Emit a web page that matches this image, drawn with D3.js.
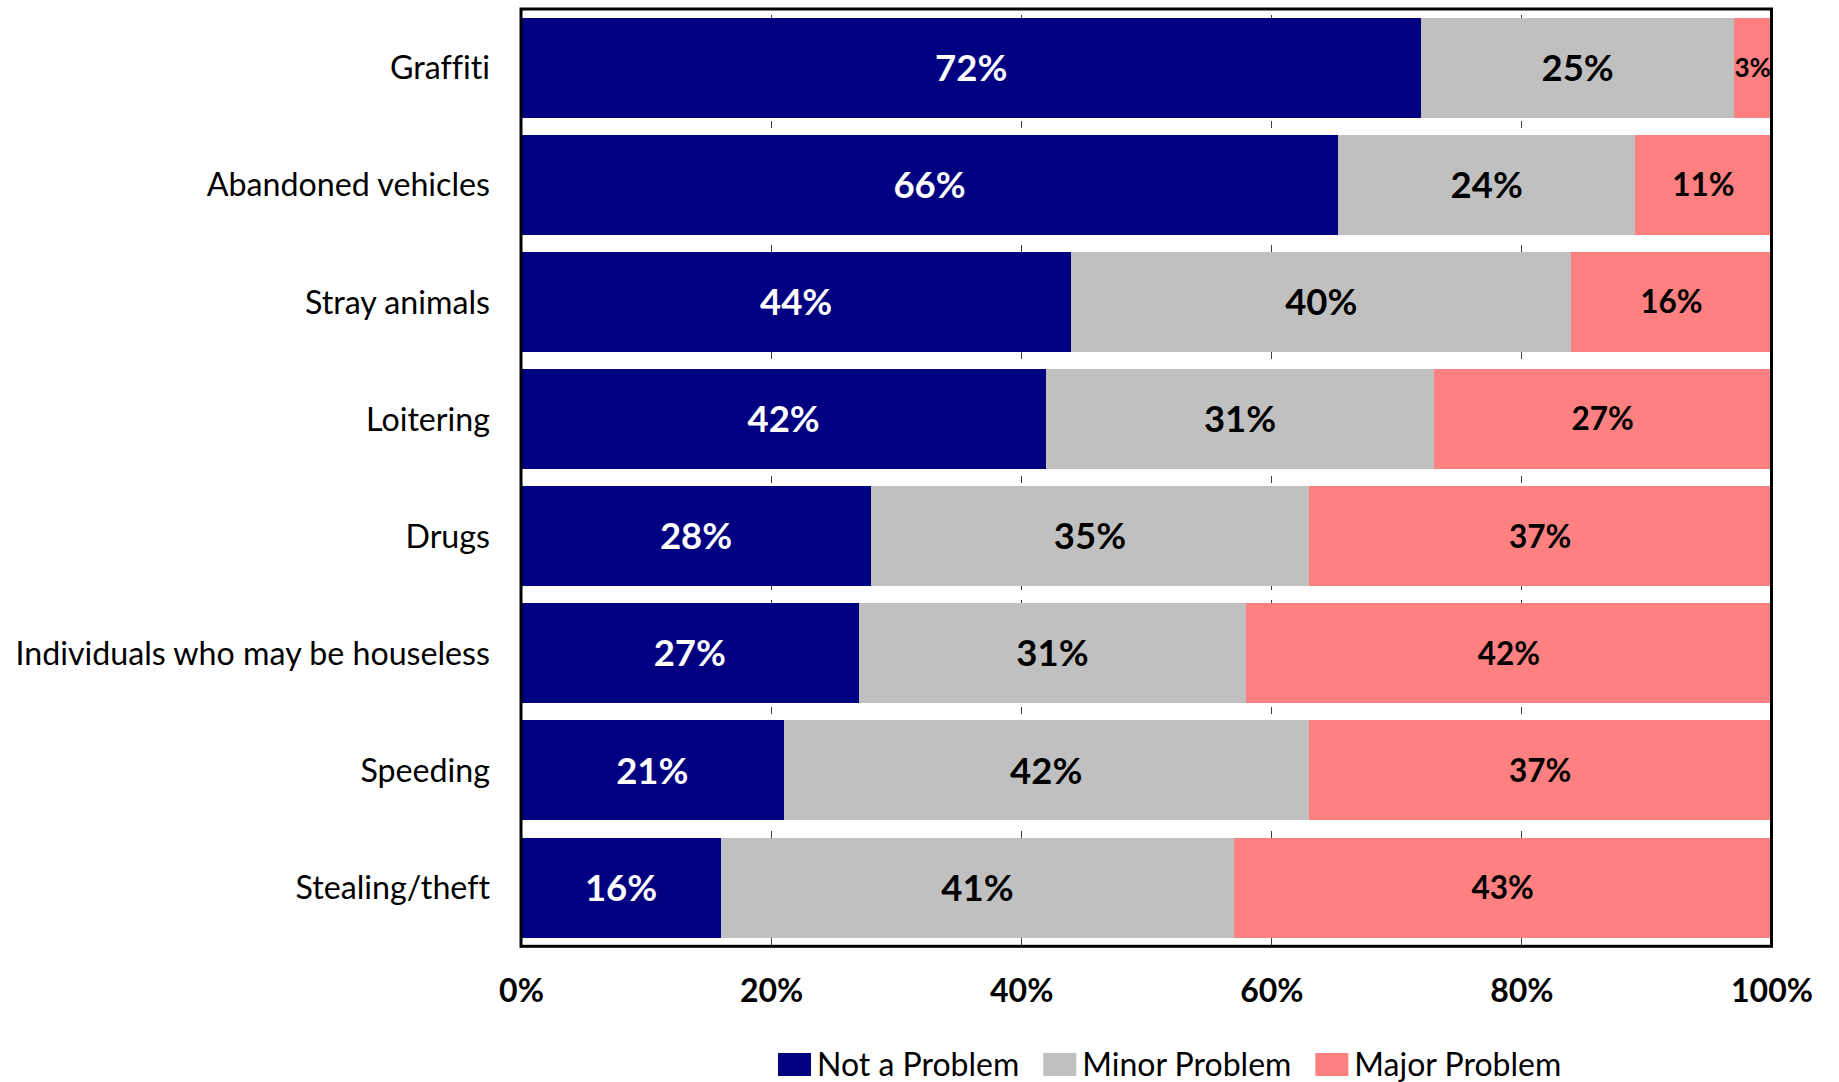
<!DOCTYPE html>
<html>
<head>
<meta charset="utf-8">
<script src="https://cdn.jsdelivr.net/npm/d3@7"></script>
<style>
  html, body { margin: 0; padding: 0; background: #ffffff; }
  svg { display: block; }
  text { font-variant-ligatures: none; }
</style>
</head>
<body>
<svg id="chart" width="1839" height="1082"></svg>
<script>
// Survey responses: how much of a problem each issue is in the neighbourhood (percent of respondents)
const categories = [
  "Graffiti",
  "Abandoned vehicles",
  "Stray animals",
  "Loitering",
  "Drugs",
  "Individuals who may be houseless",
  "Speeding",
  "Stealing/theft"
];
const seriesNames = ["Not a Problem", "Minor Problem", "Major Problem"];
const notAProblem  = [72, 66, 44, 42, 28, 27, 21, 16];
const minorProblem = [25, 24, 40, 31, 35, 31, 42, 41];
const majorProblem = [3, 11, 16, 27, 37, 42, 37, 43];
const tickValues = [0, 20, 40, 60, 80, 100];
const tickLabels = ["0%", "20%", "40%", "60%", "80%", "100%"];

const seriesColors = ["#000080", "#C0C0C0", "#FF8080"];
const labelColors  = ["#FFFFFF", "#000000", "#000000"];
const labelSizes   = [36.5, 36.5, 31.5];
const FONT = "Lato, 'Open Sans', 'Noto Sans', sans-serif";

const seriesValues = [notAProblem, minorProblem, majorProblem];
const rows = categories.map((c, i) => {
  const r = { category: c };
  seriesNames.forEach((s, k) => { r[s] = seriesValues[k][i]; });
  return r;
});

const svg = d3.select("#chart");

// Plot frame
const plot = { left: 521, right: 1771.5, top: 9, bottom: 946.3 };

const x = d3.scaleLinear().domain([0, 1]).range([plot.left, plot.right]);
const y = d3.scaleBand()
  .domain(categories)
  .range([plot.top, plot.bottom])
  .paddingInner(0.146)
  .paddingOuter(0.075);

// 100% stacked layout
const stacked = d3.stack().keys(seriesNames).offset(d3.stackOffsetExpand)(rows);

// Dashed vertical gridlines (visible between bars)
svg.append("g")
  .selectAll("line")
  .data(tickValues.slice(1, -1))
  .join("line")
  .attr("x1", d => x(d / 100))
  .attr("x2", d => x(d / 100))
  .attr("y1", plot.top)
  .attr("y2", plot.bottom)
  .attr("stroke", "#404040")
  .attr("stroke-width", 1)
  .attr("stroke-dasharray", "7,10.75")
  .attr("stroke-dashoffset", 12.25)
  .attr("shape-rendering", "crispEdges");

// Bars
const layers = svg.append("g")
  .selectAll("g")
  .data(stacked)
  .join("g")
  .attr("fill", (d, i) => seriesColors[i]);

layers.selectAll("rect")
  .data(d => d)
  .join("rect")
  .attr("x", d => x(d[0]))
  .attr("y", d => y(d.data.category))
  .attr("width", d => x(d[1]) - x(d[0]))
  .attr("height", y.bandwidth())
  .attr("shape-rendering", "crispEdges");

// Value labels, centred in each segment and shrunk when a segment is too narrow
stacked.forEach((layer, k) => {
  const g = svg.append("g");
  layer.forEach(d => {
    const x0 = x(d[0]), x1 = x(d[1]);
    const w = x1 - x0;
    const t = g.append("text")
      .attr("x", (x0 + x1) / 2)
      .attr("y", y(d.data.category) + y.bandwidth() / 2)
      .attr("dy", "0.36em")
      .attr("text-anchor", "middle")
      .attr("font-family", FONT)
      .attr("font-weight", 700)
      .attr("font-size", labelSizes[k])
      .attr("fill", labelColors[k])
      .text(d.data[layer.key] + "%");
    const len = t.node().getComputedTextLength();
    if (len > w - 1) {
      t.attr("font-size", labelSizes[k] * (w - 1) / len);
    }
  });
});

// Category labels
svg.append("g")
  .selectAll("text")
  .data(categories)
  .join("text")
  .attr("x", 490)
  .attr("y", d => y(d) + y.bandwidth() / 2)
  .attr("dy", "0.36em")
  .attr("text-anchor", "end")
  .attr("font-family", FONT)
  .attr("font-size", 32.2)
  .attr("fill", "#000000")
  .text(d => d);

// Frame around the plot area
svg.append("rect")
  .attr("x", plot.left)
  .attr("y", plot.top)
  .attr("width", plot.right - plot.left)
  .attr("height", plot.bottom - plot.top)
  .attr("fill", "none")
  .attr("stroke", "#000000")
  .attr("stroke-width", 3);

// Percentage axis
const xAxis = d3.axisBottom(x)
  .tickValues(tickValues.map(v => v / 100))
  .tickFormat((d, i) => tickLabels[i])
  .tickSize(0)
  .tickPadding(33);

const axisG = svg.append("g")
  .attr("transform", `translate(0,${plot.bottom})`)
  .call(xAxis);
axisG.select(".domain").remove();
axisG.selectAll("text")
  .attr("font-family", FONT)
  .attr("font-weight", 700)
  .attr("font-size", 32)
  .attr("fill", "#000000");

// Legend
const legend = svg.append("g");
let lx = 778;
seriesNames.forEach((name, i) => {
  legend.append("rect")
    .attr("x", lx)
    .attr("y", 1053)
    .attr("width", 33)
    .attr("height", 23)
    .attr("fill", seriesColors[i]);
  const t = legend.append("text")
    .attr("x", lx + 39)
    .attr("y", 1076)
    .attr("font-family", FONT)
    .attr("font-size", 32)
    .attr("fill", "#000000")
    .text(name);
  lx += 39 + t.node().getComputedTextLength() + 24;
});
</script>
</body>
</html>
